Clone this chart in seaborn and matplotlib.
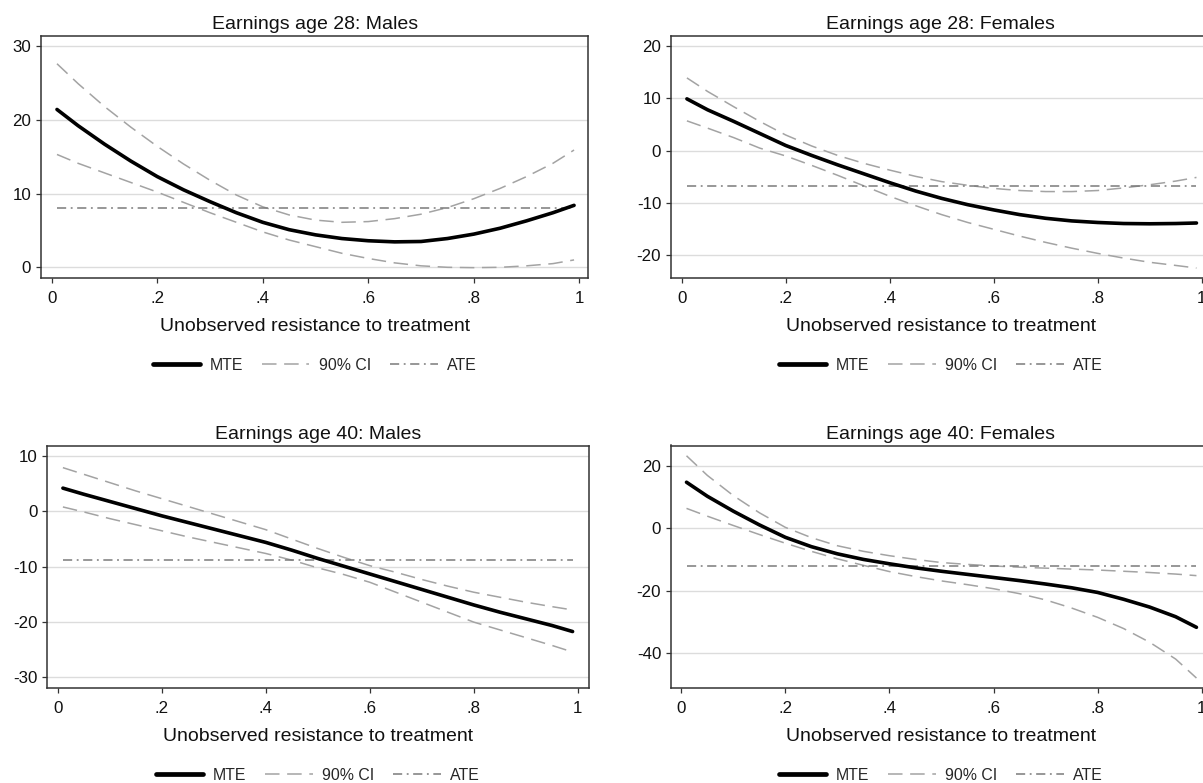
import numpy as np
import pandas as pd
import matplotlib
matplotlib.use("Agg")
import matplotlib.pyplot as plt
from matplotlib.lines import Line2D
import seaborn as sns

sns.set_style("white")
plt.rcParams['font.family'] = ['Liberation Sans', 'DejaVu Sans']

# unobserved resistance grid
u = [0.01, 0.05, 0.10, 0.15, 0.20, 0.25, 0.30, 0.35, 0.40, 0.45, 0.50,
     0.55, 0.60, 0.65, 0.70, 0.75, 0.80, 0.85, 0.90, 0.95, 0.99]

# Earnings age 28: Males
m28_mte = [21.4, 19.2, 16.7, 14.4, 12.3, 10.5, 8.9, 7.4, 6.1, 5.1, 4.4,
           3.9, 3.6, 3.45, 3.5, 3.9, 4.5, 5.3, 6.3, 7.4, 8.4]
m28_hi = [27.6, 24.9, 21.8, 19.0, 16.4, 14.0, 11.8, 9.8, 8.2, 7.1, 6.4,
          6.1, 6.2, 6.6, 7.2, 8.1, 9.3, 10.7, 12.3, 14.1, 15.9]
m28_lo = [15.3, 14.1, 12.8, 11.5, 10.2, 8.8, 7.4, 6.1, 4.8, 3.7, 2.8,
          1.9, 1.2, 0.6, 0.2, 0.0, -0.05, 0.0, 0.2, 0.5, 1.0]
m28_ate = 8.05

# Earnings age 28: Females
f28_mte = [9.9, 7.8, 5.6, 3.3, 1.0, -0.9, -2.7, -4.4, -6.1, -7.7, -9.1,
           -10.3, -11.3, -12.2, -12.9, -13.4, -13.7, -13.9, -13.95, -13.9, -13.8]
f28_hi = [13.9, 11.3, 8.4, 5.6, 3.0, 0.9, -0.9, -2.4, -3.7, -4.9, -5.9,
          -6.6, -7.2, -7.6, -7.8, -7.8, -7.6, -7.1, -6.5, -5.8, -5.1]
f28_lo = [5.7, 4.3, 2.5, 0.5, -1.0, -2.8, -4.7, -6.7, -8.7, -10.5, -12.2,
          -13.7, -15.0, -16.3, -17.5, -18.6, -19.6, -20.5, -21.3, -21.9, -22.4]
f28_ate = -6.75

# Earnings age 40: Males
m40_mte = [4.2, 3.1, 1.8, 0.5, -0.8, -2.0, -3.2, -4.4, -5.6, -7.0, -8.5,
           -9.9, -11.3, -12.7, -14.1, -15.5, -16.9, -18.2, -19.4, -20.6, -21.7]
m40_hi = [7.9, 6.7, 5.2, 3.7, 2.3, 0.9, -0.5, -1.9, -3.3, -5.0, -6.7,
          -8.3, -9.8, -11.0, -12.3, -13.5, -14.6, -15.5, -16.4, -17.2, -17.8]
m40_lo = [0.8, -0.1, -1.3, -2.4, -3.5, -4.6, -5.6, -6.6, -7.6, -8.8, -10.2,
          -11.4, -12.8, -14.6, -16.4, -18.2, -20.0, -21.4, -22.8, -24.2, -25.4]
m40_ate = -8.7

# Earnings age 40: Females
f40_mte = [14.8, 10.3, 5.5, 1.1, -2.9, -5.9, -8.2, -10.0, -11.4, -12.7, -13.8,
           -14.8, -15.8, -16.8, -17.9, -19.1, -20.6, -22.8, -25.3, -28.4, -31.8]
f40_hi = [23.3, 17.0, 10.5, 5.0, 0.3, -3.0, -5.6, -7.4, -8.8, -10.0, -11.0,
          -11.6, -12.1, -12.5, -12.8, -13.1, -13.4, -13.8, -14.2, -14.7, -15.2]
f40_lo = [6.4, 3.9, 0.9, -2.0, -4.8, -7.4, -9.8, -11.9, -13.9, -15.5, -16.9,
          -18.1, -19.4, -21.0, -23.0, -25.6, -28.6, -32.2, -36.6, -42.0, -48.1]
f40_ate = -12.2

titles = ["Earnings age 28: Males", "Earnings age 28: Females",
          "Earnings age 40: Males", "Earnings age 40: Females"]
xticks = [0, 0.2, 0.4, 0.6, 0.8, 1]
xtick_labels = ["0", ".2", ".4", ".6", ".8", "1"]
yticks = [[0, 10, 20, 30], [-20, -10, 0, 10, 20],
          [-30, -20, -10, 0, 10], [-40, -20, 0, 20]]
legend_labels = ["MTE", "90% CI", "ATE"]
xlabel = "Unobserved resistance to treatment"

panels = [
    (m28_mte, m28_hi, m28_lo, m28_ate),
    (f28_mte, f28_hi, f28_lo, f28_ate),
    (m40_mte, m40_hi, m40_lo, m40_ate),
    (f40_mte, f40_hi, f40_lo, f40_ate),
]

W, H = 1203, 783
fig = plt.figure(figsize=(W / 100, H / 100), dpi=100)
fig.patch.set_facecolor("white")


def rect(l, r, t, b):
    return [l / W, 1 - b / H, (r - l) / W, (b - t) / H]


boxes = [rect(41, 588.3, 36, 278), rect(671, 1210.5, 36, 278),
         rect(47.3, 588.7, 445.5, 688), rect(671, 1210.5, 445.5, 688)]
xlims = [(-0.0203, 1.017), (-0.0206, 1.017), (-0.02, 1.021), (-0.0198, 1.017)]
ylims = [(-1.45, 31.36), (-24.3, 21.9), (-31.9, 11.9), (-51.3, 26.6)]

ci_col = "#a3a3a3"
ate_col = "#7a7a7a"
ci_ls = (0, (9.5, 5))
ate_ls = (0, (6, 3, 1.2, 3))

for i, (mte, hi, lo, ate) in enumerate(panels):
    ax = fig.add_axes(boxes[i])
    df = pd.DataFrame({"u": u, "mte": mte, "hi": hi, "lo": lo})
    sns.lineplot(data=df, x="u", y="hi", ax=ax, color=ci_col, linewidth=1.1,
                 linestyle=ci_ls, errorbar=None, sort=False)
    sns.lineplot(data=df, x="u", y="lo", ax=ax, color=ci_col, linewidth=1.1,
                 linestyle=ci_ls, errorbar=None, sort=False)
    sns.lineplot(x=[u[0], u[-1]], y=[ate, ate], ax=ax, color=ate_col,
                 linewidth=1.1, linestyle=ate_ls, errorbar=None)
    sns.lineplot(data=df, x="u", y="mte", ax=ax, color="black", linewidth=2.6,
                 errorbar=None, sort=False, solid_capstyle="round",
                 solid_joinstyle="round")

    ax.set_xlim(*xlims[i])
    ax.set_ylim(*ylims[i])
    ax.set_xticks(xticks)
    ax.set_xticklabels(xtick_labels)
    ax.set_yticks(yticks[i])
    ax.set_yticklabels([str(v) for v in yticks[i]])
    ax.yaxis.grid(True, color="#dcdcdc", linewidth=1.0)
    ax.xaxis.grid(False)
    ax.set_axisbelow(True)
    for s in ax.spines.values():
        s.set_visible(True)
        s.set_color("#333333")
        s.set_linewidth(1.1)
    ax.tick_params(axis="both", which="major", direction="out", length=3.6,
                   width=0.9, color="#333333", labelsize=12.2,
                   left=True, bottom=True, labelcolor="#111111")
    ax.tick_params(axis="x", pad=5.5)
    ax.tick_params(axis="y", pad=3.5)
    ax.set_title(titles[i], fontsize=14, pad=5, color="#111111")
    ax.set_xlabel(xlabel, fontsize=14, labelpad=9, color="#111111")
    ax.set_ylabel("")

    handles = [Line2D([], [], color="black", linewidth=3.4),
               Line2D([], [], color=ci_col, linewidth=1.1, linestyle=ci_ls),
               Line2D([], [], color=ate_col, linewidth=1.1, linestyle=ate_ls)]
    yleg = -0.36 if i < 2 else -0.36
    ax.legend(handles, legend_labels, loc="center", bbox_to_anchor=(0.5, yleg),
              ncol=3, frameon=False, fontsize=11.4, handlelength=3.0,
              handletextpad=0.6, columnspacing=1.2)

fig.savefig("out.png", dpi=100, facecolor="white")
